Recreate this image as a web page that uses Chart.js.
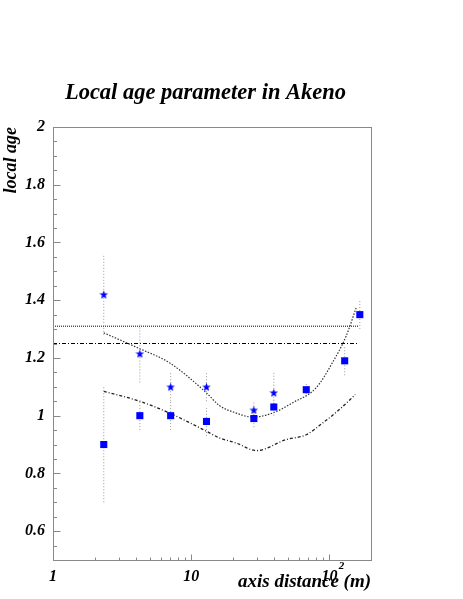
<!DOCTYPE html>
<html><head><meta charset="utf-8">
<script src="https://cdn.jsdelivr.net/npm/chart.js@4/dist/chart.umd.min.js"></script>
<style>html,body{margin:0;padding:0;background:#fff;}canvas{display:block}</style>
</head><body>
<canvas id="c" width="463" height="599"></canvas>
<script>
// ---- data ----
const chartTitle = 'Local age parameter in Akeno';
const xTitle = 'axis distance (m)';
const yTitle = 'local age';
const xTickValues = [1, 10, 100];
const yTickValues = [0.6, 0.8, 1, 1.2, 1.4, 1.6, 1.8, 2];

const squareDist = [2.33, 4.25, 7.1, 12.9, 28.4, 39.6, 68, 129, 166];
const squareAge  = [0.90, 1.00, 1.00, 0.98, 0.99, 1.03, 1.09, 1.19, 1.35];
const squareErr  = [0.20, 0.05, 0.05, 0.05, 0.03, 0.03, 0.025, 0.05, 0.05];

const starDist = [2.33, 4.25, 7.1, 12.9, 28.4, 39.6];
const starAge  = [1.42, 1.215, 1.10, 1.10, 1.02, 1.08];
const starErr  = [0.14, 0.10, 0.05, 0.05, 0.03, 0.07];

const upperDist = [2.33, 4.24, 6.97, 12.9, 16, 21.2, 27.8, 38.8, 54.4, 80, 105, 132, 156];
const upperAge  = [1.287, 1.232, 1.183, 1.079, 1.035, 1.009, 0.995, 1.009, 1.045, 1.096, 1.183, 1.275, 1.373];

const lowerDist = [2.33, 4.24, 6.97, 12.9, 16, 21.2, 29.6, 48.6, 68, 89.7, 118, 154];
const lowerAge  = [1.084, 1.05, 1.009, 0.946, 0.923, 0.905, 0.879, 0.917, 0.934, 0.975, 1.021, 1.073];

const hLineDist = [1, 162];
const hDottedAge = 1.31;
const hDashDotAge = 1.25;

// ---- helpers ----
const pts = (xs, ys) => xs.map((x, i) => ({x, y: ys[i]}));
const errPts = (xs, ys, es) => xs.flatMap((x, i) => [{x, y: ys[i] - es[i]}, {x, y: ys[i] + es[i]}, {x, y: null}]);
function makeStar(size, color) {
  const c = document.createElement('canvas'); c.width = c.height = size;
  const g = c.getContext('2d'); g.fillStyle = color; g.beginPath();
  const cx = size / 2, cy = size / 2 + 0.5, R = size / 2, r = R * 0.42;
  for (let i = 0; i < 10; i++) {
    const a = -Math.PI / 2 + i * Math.PI / 5, rr = i % 2 ? r : R;
    g.lineTo(cx + rr * Math.cos(a), cy + rr * Math.sin(a));
  }
  g.closePath(); g.fill(); return c;
}
const starImg = makeStar(9, '#0000ff');
const serif = '"Liberation Serif", "Times New Roman", serif';
const fnt = (size) => ({family: serif, size, style: 'italic', weight: 'bold'});

const framePlugin = {
  id: 'frame',
  afterDraw(chart) {
    const {ctx, chartArea: a, scales: {x, y}} = chart;
    ctx.save();
    ctx.strokeStyle = '#888'; ctx.lineWidth = 1;
    const L = Math.round(a.left) + 0.5, R = Math.round(a.right) + 0.5;
    const T = Math.round(a.top) + 0.5, B = Math.round(a.bottom) + 0.5;
    ctx.strokeRect(L, T, R - L, B - T);
    ctx.beginPath();
    // y ticks
    for (let k = 11; k <= 40; k++) {
      const v = k * 0.05;
      const major = (k % 4 === 0);
      const py = Math.round(y.getPixelForValue(v)) + 0.5;
      ctx.moveTo(L, py); ctx.lineTo(L + (major ? 7 : 3.5), py);
    }
    // x ticks
    [1, 10, 100].forEach(dec => {
      for (let k = 1; k <= 9; k++) {
        const v = k * dec;
        if (v > 200) break;
        const px = Math.round(x.getPixelForValue(v)) + 0.5;
        ctx.moveTo(px, B); ctx.lineTo(px, B - (k === 1 ? 6 : 3));
      }
    });
    ctx.stroke();
    // title
    ctx.fillStyle = '#000';
    ctx.font = 'italic bold 22.5px ' + serif;
    ctx.textAlign = 'center'; ctx.textBaseline = 'middle';
    ctx.fillText(chartTitle, 205.5, 93);
    // exponent of 10^2 tick label
    ctx.font = 'italic bold 11px ' + serif;
    ctx.fillText('2', x.getPixelForValue(100) + 12, 566);
    ctx.restore();
  }
};

new Chart(document.getElementById('c'), {
  type: 'line',
  data: {
    datasets: [
      {label: 'squares', data: pts(squareDist, squareAge), showLine: false,
       pointStyle: 'rect', pointRadius: 5, backgroundColor: '#0000ff', borderColor: '#0000ff', borderWidth: 0},
      {label: 'stars', data: pts(starDist, starAge), showLine: false,
       pointStyle: starImg, pointRadius: 5, backgroundColor: '#0000ff', borderColor: '#0000ff'},
      {label: 'square errors', data: errPts(squareDist, squareAge, squareErr), spanGaps: false,
       borderColor: '#999', borderWidth: 1, borderDash: [1, 2], pointRadius: 0},
      {label: 'star errors', data: errPts(starDist, starAge, starErr), spanGaps: false,
       borderColor: '#999', borderWidth: 1, borderDash: [1, 2], pointRadius: 0},
      {label: 'upper curve', data: pts(upperDist, upperAge), borderColor: '#333', borderWidth: 1.2,
       borderDash: [1.5, 1.5], pointRadius: 0, cubicInterpolationMode: 'monotone'},
      {label: 'lower curve', data: pts(lowerDist, lowerAge), borderColor: '#222', borderWidth: 1.3,
       borderDash: [3, 2, 1, 2], pointRadius: 0, cubicInterpolationMode: 'monotone'},
      {label: 'dotted level', data: hLineDist.map(x => ({x, y: hDottedAge})), borderColor: '#000', borderWidth: 1,
       borderDash: [1, 1], pointRadius: 0},
      {label: 'dash-dot level', data: hLineDist.map(x => ({x, y: hDashDotAge})), borderColor: '#000', borderWidth: 1,
       borderDash: [4, 2, 1, 2], pointRadius: 0}
    ]
  },
  options: {
    responsive: false, animation: false, devicePixelRatio: 1,
    layout: {padding: {top: 127, right: 92, left: 0, bottom: 0}},
    plugins: {legend: {display: false}, tooltip: {enabled: false}, title: {display: false}},
    scales: {
      x: {
        type: 'logarithmic', min: 1, max: 200,
        afterBuildTicks: s => { s.ticks = xTickValues.map(v => ({value: v})); },
        afterFit: s => { s.height = 39; },
        ticks: {autoSkip: false, maxRotation: 0, padding: 7, color: '#000', font: fnt(16),
                callback: v => (v === 100 ? '10' : String(v))},
        grid: {display: false, drawTicks: false}, border: {display: false},
        title: {display: true, text: xTitle, align: 'end', color: '#000', font: fnt(19), padding: {top: 0, bottom: 6}}
      },
      y: {
        type: 'linear', min: 0.5, max: 2,
        afterBuildTicks: s => { s.ticks = yTickValues.map(v => ({value: v})); },
        afterFit: s => { s.width = 53; },
        ticks: {autoSkip: false, padding: 8, color: '#000', font: fnt(16),
                callback: v => String(Math.round(v * 10) / 10)},
        grid: {display: false, drawTicks: false}, border: {display: false},
        title: {display: true, text: yTitle, align: 'end', color: '#000', font: fnt(18), padding: {top: 1, bottom: 0}}
      }
    }
  },
  plugins: [framePlugin]
});
</script>
</body></html>
